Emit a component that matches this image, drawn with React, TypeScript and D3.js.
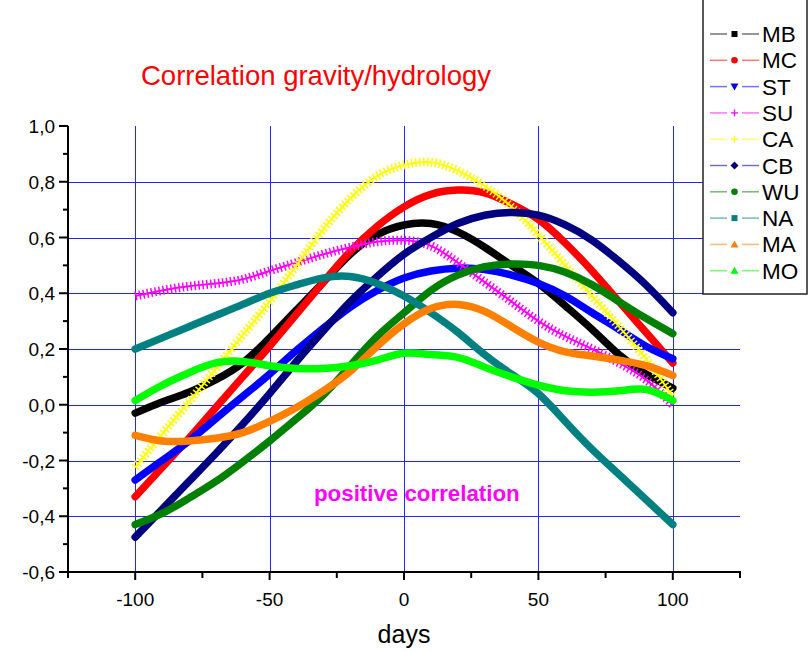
import React from "react";
import * as d3 from "d3";

const days = [-100, -90, -80, -70, -60, -50, -40, -30, -20, -10, 0, 10, 20, 30, 40, 50, 60, 70, 80, 90, 100];

const MB = [-0.03, 0.01, 0.045, 0.09, 0.15, 0.24, 0.34, 0.44, 0.54, 0.61, 0.645, 0.65, 0.62, 0.565, 0.5, 0.435, 0.355, 0.27, 0.18, 0.11, 0.06];
const MC = [-0.33, -0.225, -0.12, -0.01, 0.1, 0.21, 0.325, 0.44, 0.55, 0.64, 0.71, 0.755, 0.77, 0.76, 0.72, 0.665, 0.58, 0.48, 0.37, 0.26, 0.15];
const ST = [-0.27, -0.2, -0.13, -0.05, 0.03, 0.11, 0.195, 0.275, 0.35, 0.41, 0.455, 0.48, 0.49, 0.485, 0.465, 0.435, 0.39, 0.33, 0.27, 0.21, 0.165];
const SU = [0.39, 0.41, 0.425, 0.435, 0.45, 0.48, 0.51, 0.54, 0.565, 0.585, 0.59, 0.57, 0.51, 0.44, 0.37, 0.3, 0.245, 0.2, 0.15, 0.09, 0.0];
const CA = [-0.225, -0.105, 0.01, 0.13, 0.25, 0.37, 0.5, 0.63, 0.74, 0.82, 0.86, 0.87, 0.84, 0.785, 0.71, 0.61, 0.5, 0.39, 0.28, 0.165, 0.03];
const CB = [-0.475, -0.375, -0.275, -0.175, -0.07, 0.04, 0.155, 0.265, 0.37, 0.46, 0.54, 0.6, 0.65, 0.68, 0.69, 0.68, 0.645, 0.59, 0.515, 0.43, 0.33];
const WU = [-0.43, -0.39, -0.335, -0.275, -0.205, -0.13, -0.05, 0.035, 0.14, 0.245, 0.33, 0.41, 0.465, 0.495, 0.505, 0.5, 0.475, 0.43, 0.37, 0.31, 0.255];
const NA = [0.2, 0.24, 0.28, 0.32, 0.36, 0.4, 0.43, 0.455, 0.46, 0.435, 0.39, 0.33, 0.26, 0.18, 0.11, 0.04, -0.06, -0.16, -0.25, -0.34, -0.43];
const MA = [-0.11, -0.13, -0.13, -0.12, -0.1, -0.06, -0.01, 0.05, 0.12, 0.21, 0.29, 0.345, 0.36, 0.335, 0.28, 0.225, 0.19, 0.175, 0.16, 0.14, 0.105];
const MO = [0.015, 0.07, 0.115, 0.15, 0.155, 0.14, 0.13, 0.13, 0.14, 0.16, 0.185, 0.18, 0.17, 0.135, 0.1, 0.07, 0.05, 0.045, 0.05, 0.055, 0.015];

const seriesNames = ["MB", "MC", "ST", "SU", "CA", "CB", "WU", "NA", "MA", "MO"];
const seriesValues = [MB, MC, ST, SU, CA, CB, WU, NA, MA, MO];
const seriesColors = ["#000000", "#ff0000", "#0000ff", "#ff00ff", "#ffff00", "#000080", "#008000", "#008080", "#ff8000", "#00ff00"];
const seriesMarkers = ["square", "circle", "tridown", "plus", "plus", "diamond", "circle", "square", "triangle", "triangle"];

const xTicks = [-100, -50, 0, 50, 100];
const xMinor = [-125, -75, -25, 25, 75, 125];
const yTicks = [-0.6, -0.4, -0.2, 0.0, 0.2, 0.4, 0.6, 0.8, 1.0];
const yMinor = [-0.5, -0.3, -0.1, 0.1, 0.3, 0.5, 0.7, 0.9];

const L = 68, R = 740, T = 126, B = 572;

function Marker({ type, x, y, color }: { type: string; x: number; y: number; color: string }) {
  const s = 3;
  if (type === "square") return <rect x={x - s} y={y - s} width={2 * s} height={2 * s} fill={color} />;
  if (type === "circle") return <circle cx={x} cy={y} r={3.3} fill={color} />;
  if (type === "tridown") return <path d={`M${x - 4},${y - 3}L${x + 4},${y - 3}L${x},${y + 4}Z`} fill={color} />;
  if (type === "triangle") return <path d={`M${x - 4},${y + 3}L${x + 4},${y + 3}L${x},${y - 4}Z`} fill={color} />;
  if (type === "diamond") return <path d={`M${x},${y - 4}L${x + 4},${y}L${x},${y + 4}L${x - 4},${y}Z`} fill={color} />;
  return (
    <g stroke={color} strokeWidth={1.3}>
      <line x1={x - 3.5} x2={x + 3.5} y1={y} y2={y} />
      <line x1={x} x2={x} y1={y - 3.5} y2={y + 3.5} />
    </g>
  );
}

export default function App() {
  const x = d3.scaleLinear().domain([-125, 125]).range([L, R]);
  const y = d3.scaleLinear().domain([-0.6, 1.0]).range([B, T]);
  const line = d3
    .line<number>()
    .x((_, i) => x(days[i]))
    .y((d) => y(d))
    .curve(d3.curveNatural);

  const fmt = (v: number) => d3.format(".1f")(v).replace(".", ",").replace("−", "-");

  return (
    <svg width={809} height={652} style={{ position: "absolute", left: 0, top: 0, fontFamily: "'Liberation Sans', Arial, sans-serif" }}>
      <rect x={0} y={0} width={809} height={652} fill="#fff" />
      {/* grid */}
      <g stroke="#0000ff" strokeWidth={1} opacity={0.85}>
        {yTicks.filter((t) => t > -0.6 && t < 1.0).map((t) => (
          <line key={"gy" + t} x1={L} x2={R} y1={Math.round(y(t)) + 0.5} y2={Math.round(y(t)) + 0.5} />
        ))}
        {xTicks.map((t) => (
          <line key={"gx" + t} x1={Math.round(x(t)) + 0.5} x2={Math.round(x(t)) + 0.5} y1={T} y2={B} />
        ))}
      </g>
      {/* series */}
      {seriesValues.map((vals, si) => {
        const d = line(vals) || "";
        const c = seriesColors[si];
        if (seriesMarkers[si] === "plus") {
          return (
            <g key={si} fill="none" stroke={c}>
              <path d={d} strokeWidth={2} />
              <path d={d} strokeWidth={9} strokeDasharray="1.5 2.5" />
            </g>
          );
        }
        return <path key={si} d={d} fill="none" stroke={c} strokeWidth={7.5} strokeLinecap="round" />;
      })}
      {/* axes */}
      <g stroke="#000" strokeWidth={2}>
        <line x1={L} x2={L} y1={T} y2={B + 1} />
        <line x1={L - 1} x2={R + 1} y1={B} y2={B} />
        {yTicks.map((t) => (
          <line key={"ty" + t} x1={L - 9} x2={L} y1={y(t)} y2={y(t)} />
        ))}
        {yMinor.map((t) => (
          <line key={"my" + t} x1={L - 5} x2={L} y1={y(t)} y2={y(t)} />
        ))}
        {xTicks.map((t) => (
          <line key={"tx" + t} x1={x(t)} x2={x(t)} y1={B} y2={B + 8} />
        ))}
        {xMinor.map((t) => (
          <line key={"mx" + t} x1={x(t)} x2={x(t)} y1={B} y2={B + 6} />
        ))}
      </g>
      <g fontSize={19} fill="#000">
        {yTicks.map((t) => (
          <text key={"ly" + t} x={55} y={y(t) + 7} textAnchor="end">
            {fmt(t)}
          </text>
        ))}
        {xTicks.map((t) => (
          <text key={"lx" + t} x={x(t)} y={606} textAnchor="middle">
            {t}
          </text>
        ))}
      </g>
      <text x={404} y={643} fontSize={25} textAnchor="middle" fill="#000">
        days
      </text>
      <text x={141} y={85} fontSize={27.5} fill="#ff0000">
        Correlation gravity/hydrology
      </text>
      <text x={314} y={501} fontSize={22.3} fontWeight="bold" fill="#ff00ff">
        positive correlation
      </text>
      {/* legend */}
      <rect x={703} y={-1} width={104} height={295} fill="#fff" stroke="#222" strokeWidth={1.5} />
      {seriesNames.map((n, i) => {
        const ly = 34 + i * 26.3;
        const c = seriesColors[i];
        return (
          <g key={n}>
            <g stroke={c} strokeWidth={1.5} strokeOpacity={0.55}>
              <line x1={710} x2={727} y1={ly} y2={ly} />
              <line x1={742} x2={759} y1={ly} y2={ly} />
            </g>
            <Marker type={seriesMarkers[i]} x={734.5} y={ly} color={c} />
            <text x={762} y={ly + 8} fontSize={22.5} fill="#000">
              {n}
            </text>
          </g>
        );
      })}
    </svg>
  );
}
